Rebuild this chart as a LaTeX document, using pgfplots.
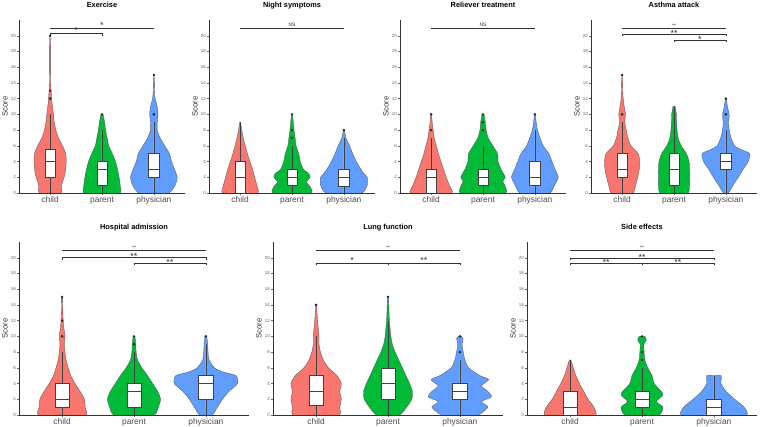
\documentclass[border=0pt]{standalone}
\usepackage{fontspec}
\setmainfont{Liberation Sans}
\usepackage{pgfplots}
\usepackage{pgfplotstable}
\pgfplotsset{compat=1.18}
\usepgfplotslibrary{statistics}

\definecolor{cRed}{HTML}{F8766D}
\definecolor{cGreen}{HTML}{00BA38}
\definecolor{cBlue}{HTML}{619CFF}

% violin half-widths (category units) against score
\pgfplotstableread{
y w
0 0
0 0.21
1 0.22
2 0.27
3 0.30
4 0.31
5 0.30
6 0.24
7 0.16
8 0.11
9 0.08
10 0.065
11 0.045
12 0.03
13 0.02
14 0.012
16 0.01
18 0.01
20 0.006
20 0
}\ExC
\pgfplotstableread{
y w
0 0
0 0.35
1 0.35
2 0.33
3 0.30
4 0.26
5 0.20
6 0.13
7 0.10
8 0.07
9 0.05
10 0.02
10 0
}\ExP
\pgfplotstableread{
y w
0 0
0 0.29
1 0.41
2 0.45
3 0.40
4 0.34
5 0.30
6 0.21
7 0.12
8 0.065
9 0.065
10 0.08
11 0.065
12 0.025
13 0.012
15 0.006
15 0
}\ExD
\pgfplotstableread{
y w
0 0
0 0.34
1 0.32
2 0.28
3 0.24
4 0.19
5 0.14
6 0.10
7 0.06
8 0.03
9 0.01
9 0
}\NiC
\pgfplotstableread{
y w
0 0
0 0.37
0.7 0.36
1.4 0.28
2 0.35
2.5 0.32
3 0.22
4 0.16
5 0.13
6 0.08
7 0.06
8 0.04
9 0.025
10 0.01
10 0
}\NiP
\pgfplotstableread{
y w
0 0
0 0.35
1 0.45
2 0.45
2.5 0.38
3 0.33
4 0.24
5 0.17
6 0.11
7 0.04
8 0.01
8 0
}\NiD
\pgfplotstableread{
y w
0 0
0 0.40
1 0.35
2 0.29
3 0.24
4 0.19
5 0.14
6 0.10
7 0.06
8 0.04
9 0.02
10 0.01
10 0
}\ReC
\pgfplotstableread{
y w
0 0
0 0.44
1 0.42
1.5 0.38
2 0.43
3 0.35
4 0.29
5 0.28
6 0.19
7 0.10
8 0.06
9 0.045
10 0.02
10 0
}\ReP
\pgfplotstableread{
y w
0 0
0 0.29
1 0.38
2 0.45
3 0.39
4 0.33
5 0.27
6 0.16
7 0.10
8 0.05
9 0.025
10 0.01
10 0
}\ReD
\pgfplotstableread{
y w
0 0
0 0.21
1 0.26
2 0.30
3 0.33
4 0.34
5 0.31
6 0.17
7 0.11
8 0.08
9 0.05
10 0.065
11 0.04
12 0.02
13 0.012
15 0.006
15 0
}\AsC
\pgfplotstableread{
y w
0 0
0 0.27
1 0.30
2 0.30
3 0.30
4 0.29
5 0.24
6 0.14
7 0.08
8 0.06
9 0.05
10 0.045
11 0.02
11 0
}\AsP
\pgfplotstableread{
y w
0 0
0 0.05
1 0.14
2 0.24
3 0.33
4 0.43
5 0.46
5.5 0.30
6 0.17
7 0.10
8 0.065
9 0.05
10 0.065
11 0.03
12 0.01
12 0
}\AsD
\pgfplotstableread{
y w
0 0
0 0.33
1 0.32
2 0.31
3 0.25
4 0.18
5 0.12
6 0.085
7 0.055
8 0.04
9 0.03
10 0.04
11 0.025
12 0.015
13 0.01
15 0.006
15 0
}\HoC
\pgfplotstableread{
y w
0 0
0 0.28
1 0.34
2 0.37
3 0.33
4 0.26
5 0.19
6 0.11
7 0.05
8 0.03
9 0.025
10 0.012
10 0
}\HoP
\pgfplotstableread{
y w
0 0
0 0.09
1 0.16
2 0.23
3 0.32
4 0.44
5 0.42
5.5 0.23
6 0.12
7 0.045
8 0.03
9 0.025
10 0.012
10 0
}\HoD
\pgfplotstableread{
y w
0 0
0 0.32
1 0.33
2 0.35
3 0.33
4 0.35
5 0.29
6 0.17
7 0.10
8 0.06
9 0.04
10 0.04
11 0.03
12 0.02
13 0.012
14 0.006
14 0
}\LuC
\pgfplotstableread{
y w
0 0
0 0.16
1 0.26
2 0.33
3 0.34
4 0.30
5 0.25
6 0.20
7 0.15
8 0.10
9 0.06
10 0.04
11 0.03
12 0.02
13 0.015
15 0.006
15 0
}\LuP
\pgfplotstableread{
y w
0 0
0 0.25
1 0.39
1.7 0.30
2.3 0.44
3 0.39
3.7 0.30
4.5 0.40
5 0.28
6 0.12
7 0.07
8 0.046
9 0.03
9.7 0.045
10 0.02
10 0
}\LuD
\pgfplotstableread{
y w
0 0
0 0.35
1 0.33
2 0.25
3 0.19
4 0.13
5 0.08
6 0.045
7 0.01
7 0
}\SiC
\pgfplotstableread{
y w
0 0
0 0.24
1 0.29
1.7 0.20
2.5 0.29
3 0.27
4 0.17
5 0.14
6 0.08
7 0.04
8 0.03
9 0.025
9.5 0.06
10 0.04
10 0
}\SiP
\pgfplotstableread{
y w
0 0
0 0.45
1 0.42
2 0.29
3 0.17
4 0.10
5 0.10
5 0
}\SiD

\tikzset{sigt/.style={anchor=base, inner sep=0.2pt, text=black!80}}
\pgfplotsset{
  every axis title/.style={at={(0.5,1)}, anchor=base, yshift=12pt,
    font=\bfseries\fontsize{7.4}{8}\selectfont},
  every axis y label/.style={at={(axis description cs:0,0.5)}, xshift=-14pt,
    rotate=90, anchor=center, font=\fontsize{7.7}{8}\selectfont, text=black!80},
  panel/.style={
    scale only axis, height=173pt, anchor=south west,
    xmin=0.4, xmax=3.6, ymin=0, ymax=22,
    axis x line*=bottom, axis y line*=left,
    axis line style={black!80, line width=0.5pt},
    xtick={1,2,3}, xticklabels={child,parent,physician},
    ytick={0,2,...,20},
    tick align=outside, major tick length=2pt,
    tick style={black!60, line width=0.4pt},
    xticklabel style={font=\fontsize{8.4}{9}\selectfont, text=black!70, inner sep=1.5pt},
    yticklabel style={font=\fontsize{4.5}{5}\selectfont, text=black!60, inner sep=1pt},
    /pgf/number format/assume math mode=true,
    ylabel={Score},
    clip=false, axis on top,
    boxplot/draw direction=y,
    boxplot/box extend=0.2, boxplot/whisker extend=0,
  },
  toprow/.style={panel, width=166pt},
  botrow/.style={panel, width=230pt},
  vout/.style={draw=black!65, line width=0.35pt, smooth, tension=0.4},
  bxs/.style={draw=black!75, fill=white, line width=0.5pt,
    boxplot/every median/.style={line width=1.2pt}},
  outl/.style={only marks, mark=*, mark size=1.05pt, black!85},
  sigl/.style={black!80, line width=0.55pt},
}

\newcommand{\violin}[3]{%
  \addplot[fill=#3, draw=none, smooth, tension=0.4] table[x expr=#1+\thisrow{w}, y=y] {#2};
  \addplot[fill=#3, draw=none, smooth, tension=0.4] table[x expr=#1-\thisrow{w}, y=y] {#2};
  \addplot[vout] table[x expr=#1+\thisrow{w}, y=y] {#2};
  \addplot[vout] table[x expr=#1-\thisrow{w}, y=y] {#2};
}
\newcommand{\bx}[6]{%
  \addplot[bxs, boxplot prepared={draw position=#1, lower whisker=#2,
    lower quartile=#3, median=#4, upper quartile=#5, upper whisker=#6}] coordinates {};
}
% x1 x2 y ytick xmid label
\newcommand{\sig}[6]{%
  \addplot[sigl] coordinates {(#1,#4) (#1,#3) (#2,#3) (#2,#4)};
  \node[sigt] at (axis cs:#5,#3) {#6};
}
\newcommand{\st}[1]{\raisebox{-2pt}{\fontsize{9}{9}\selectfont #1}}
\newcommand{\sst}[1]{\raisebox{-0.5pt}{\fontsize{9}{9}\selectfont #1}}
\newcommand{\tst}[1]{{\fontsize{5}{5}\selectfont #1}}
\newcommand{\ns}{\raisebox{1pt}{\fontsize{5}{5}\selectfont NS}}

\begin{document}
\begin{tikzpicture}
\useasboundingbox (0,0) rectangle (760pt,427pt);

% ---------- top row ----------
\begin{axis}[toprow, at={(19pt,234pt)}, title={Exercise}]
\violin{1}{\ExC}{cRed}
\violin{2}{\ExP}{cGreen}
\violin{3}{\ExD}{cBlue}
\bx{1}{0}{2}{4}{5.5}{10}
\bx{2}{0}{1}{3}{4}{8}
\bx{3}{0}{2}{3}{5}{9}
\addplot[outl] coordinates {(1,12) (1,13) (1,20) (2,10) (3,10) (3,15)};
\sig{1}{2}{20.35}{20.0}{1.5}{\sst{*}}
\sig{1}{3}{21.0}{21.0}{2}{\sst{*}}
\end{axis}

\begin{axis}[toprow, at={(209pt,234pt)}, title={Night symptoms}]
\violin{1}{\NiC}{cRed}
\violin{2}{\NiP}{cGreen}
\violin{3}{\NiD}{cBlue}
\bx{1}{0}{0}{2}{4}{9}
\bx{2}{0}{1}{2}{3}{6}
\bx{3}{0}{0.8}{2}{3}{7}
\addplot[outl] coordinates {(2,7) (2,8) (2,10) (3,8)};
\sig{1}{3}{21.0}{21.0}{2}{\ns}
\end{axis}

\begin{axis}[toprow, at={(400pt,234pt)}, title={Reliever treatment}]
\violin{1}{\ReC}{cRed}
\violin{2}{\ReP}{cGreen}
\violin{3}{\ReD}{cBlue}
\bx{1}{0}{0}{2}{3}{7}
\bx{2}{0}{1}{2}{3}{6}
\bx{3}{0}{1}{2}{4}{8}
\addplot[outl] coordinates {(1,8) (1,10) (2,8) (2,9) (2,10) (3,10)};
\sig{1}{3}{21.0}{21.0}{2}{\ns}
\end{axis}

\begin{axis}[toprow, at={(591pt,234pt)}, title={Asthma attack}]
\violin{1}{\AsC}{cRed}
\violin{2}{\AsP}{cGreen}
\violin{3}{\AsD}{cBlue}
\bx{1}{0}{2}{3}{5}{9}
\bx{2}{0}{1}{3}{5}{11}
\bx{3}{0}{3}{4}{5}{8}
\addplot[outl] coordinates {(1,10) (1,15) (3,10) (3,12)};
\sig{1}{3}{21.0}{21.0}{2}{\tst{**}}
\sig{1}{3}{20.2}{19.95}{2}{\st{**}}
\sig{2}{3}{19.4}{19.15}{2.5}{\st{*}}
\end{axis}

% ---------- bottom row ----------
\begin{axis}[botrow, at={(19pt,12pt)}, title={Hospital admission}]
\violin{1}{\HoC}{cRed}
\violin{2}{\HoP}{cGreen}
\violin{3}{\HoD}{cBlue}
\bx{1}{0}{1}{2}{4}{8}
\bx{2}{0}{1}{3}{4}{8}
\bx{3}{0}{2}{4}{5}{9}
\addplot[outl] coordinates {(1,10) (1,12) (1,15) (2,9) (2,10) (3,10)};
\sig{1}{3}{21.0}{21.0}{2}{\tst{**}}
\sig{1}{3}{20.0}{19.75}{2}{\st{**}}
\sig{2}{3}{19.3}{19.05}{2.5}{\st{**}}
\end{axis}

\begin{axis}[botrow, at={(273pt,12pt)}, title={Lung function}]
\violin{1}{\LuC}{cRed}
\violin{2}{\LuP}{cGreen}
\violin{3}{\LuD}{cBlue}
\bx{1}{0}{1.2}{3}{5}{10}
\bx{2}{0}{2}{4}{6}{12}
\bx{3}{0}{2}{3}{4}{7}
\addplot[outl] coordinates {(1,14) (2,15) (3,8) (3,10)};
\sig{1}{3}{21.0}{21.0}{2}{\tst{**}}
\sig{1}{2}{19.3}{19.05}{1.5}{\sst{*}}
\sig{2}{3}{19.3}{19.05}{2.5}{\sst{**}}
\end{axis}

\begin{axis}[botrow, at={(527pt,12pt)}, title={Side effects}]
\violin{1}{\SiC}{cRed}
\violin{2}{\SiP}{cGreen}
\violin{3}{\SiD}{cBlue}
\bx{1}{0}{0}{1}{3}{7}
\bx{2}{0}{1}{2}{3}{6}
\bx{3}{0}{0}{1}{2}{5}
\addplot[outl] coordinates {(2,7) (2,8) (2,10)};
\sig{1}{3}{21.0}{21.0}{2}{\tst{**}}
\sig{1}{3}{19.9}{19.65}{2}{\st{**}}
\sig{1}{2}{19.3}{19.05}{1.5}{\st{**}}
\sig{2}{3}{19.3}{19.05}{2.5}{\st{**}}
\end{axis}
\end{tikzpicture}
\end{document}
